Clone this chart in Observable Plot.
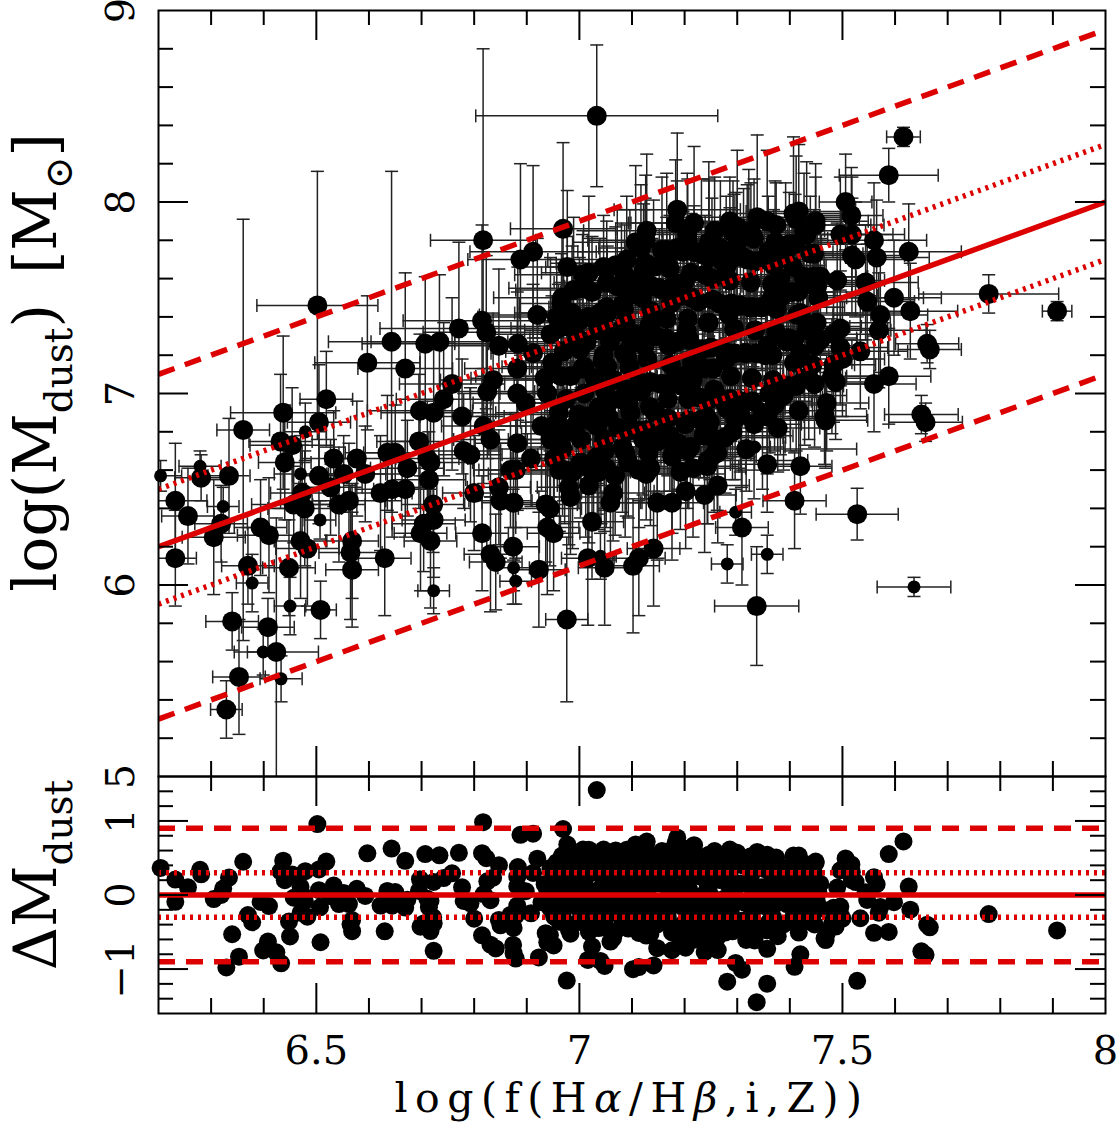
<!DOCTYPE html>
<html><head><meta charset="utf-8">
<script src="https://cdn.jsdelivr.net/npm/d3@7"></script>
<script src="https://cdn.jsdelivr.net/npm/@observablehq/plot@0.6"></script>
<style>body{margin:0;background:#fff} #chart svg{display:block}</style>
</head><body><div id="chart"></div>
<script>
// ---------- data: log f(Halpha/Hbeta,i,Z) (x) vs log Mdust (y) ----------
const mainF = [
6.232,6.256,6.232,6.281,6.305,6.319,6.334,6.361,6.34,6.329,
6.353,6.37,6.394,6.41,6.408,6.424,6.437,6.432,6.454,6.44,
6.448,6.457,6.473,6.478,6.47,6.483,6.502,6.505,6.505,6.508,
6.519,6.527,6.533,6.543,6.562,6.552,6.568,6.565,6.568,6.577,
6.597,6.593,6.622,6.63,6.635,6.643,6.644,6.65,6.669,6.669,
6.673,6.695,6.697,6.698,6.704,6.707,6.711,6.714,6.717,6.717,
6.722,6.723,6.723,6.734,6.742,6.758,6.771,6.777,6.78,6.793,
6.80,6.815,6.817,6.815,6.818,6.823,6.825,6.831,6.831,6.836,
6.841,6.847,6.847,6.85,6.869,6.874,6.875,6.879,6.882,6.882,
6.882,6.883,6.888,6.912,6.92,6.923,6.936,6.939,6.939,6.945,
6.945,6.944,6.951,6.969,6.977,6.977,6.976,6.983,6.98,6.986,
6.97,7.016,7.018,7.018,7.021,7.024,7.033,7.034,7.037,7.048,
7.053,7.059,7.064,7.072,7.102,7.107,7.113,7.113,7.122,7.128,
7.135,7.141,7.141,7.148,7.176,7.18,7.186,7.186,7.192,7.202,
7.205,7.218,7.23,7.238,7.243,7.246,7.256,7.262,7.263,7.268,
7.30,7.306,7.309,7.322,7.337,7.357,7.357,7.382,7.407,7.409,
7.417,7.42,7.42,7.42,7.427,7.439,7.446,7.449,7.452,7.458,
7.458,7.466,7.47,7.48,7.483,7.483,7.487,7.49,7.496,7.496,
7.496,7.50,7.506,7.517,7.518,7.518,7.525,7.528,7.534,7.544,
7.547,7.56,7.56,7.565,7.569,7.572,7.588,7.588,7.598,7.616,
7.626,7.629,7.65,7.658,7.661,7.666,7.778,7.908,7.468,7.382];
const mainM = [
6.44,6.36,6.14,6.56,6.25,6.32,6.57,6.81,5.81,5.35,
5.52,6.10,6.30,6.26,5.78,5.65,6.90,6.75,6.73,6.64,
6.09,6.42,6.48,6.40,6.23,6.19,7.46,6.85,6.57,5.87,
6.97,6.51,6.66,6.42,6.44,6.58,6.23,6.17,6.08,6.66,
7.16,6.58,6.48,6.14,6.69,7.27,6.50,6.69,7.13,6.50,
6.61,6.75,6.91,6.27,6.32,7.26,6.66,6.55,6.23,6.64,
6.42,6.34,6.90,7.27,6.97,7.05,7.34,6.88,6.70,6.68,
6.48,7.38,7.80,6.27,6.83,7.32,7.01,6.76,6.16,7.07,
6.12,7.25,6.51,6.44,6.60,6.20,6.43,6.60,7.13,7.00,
6.74,7.26,7.70,7.74,7.41,6.08,6.42,6.30,7.00,7.31,
6.76,6.40,6.27,7.86,7.66,7.42,5.82,6.46,6.51,7.42,
6.79,6.14,7.63,6.52,6.86,6.33,8.45,6.67,6.59,6.09,
7.42,6.43,6.48,7.56,6.10,7.79,6.14,6.60,7.64,7.85,
6.61,6.19,7.66,6.43,6.43,6.72,7.96,7.76,6.59,6.49,
6.70,7.89,6.86,6.47,6.62,7.76,6.68,6.69,6.52,7.76,
7.87,6.89,6.30,7.82,5.89,6.63,6.88,6.98,7.94,6.44,
7.95,6.62,7.42,7.21,7.85,7.73,7.35,7.90,7.56,7.61,
7.28,6.88,6.95,7.09,7.15,7.31,7.06,7.59,7.83,7.34,
7.24,7.18,8.00,7.93,7.83,7.72,7.70,6.37,7.22,7.58,
7.48,7.80,7.05,7.71,7.33,7.41,7.09,8.14,7.50,8.34,
7.74,7.43,6.89,6.85,7.26,7.23,7.52,7.43,6.86,7.60];
const mainErrF = [
0.06,0.05,0.04,0.05,0.06,0.05,0.04,0.05,0.05,0.03,
0.05,0.05,0.05,0.06,0.05,0.08,0.10,0.06,0.08,0.05,
0.05,0.08,0.06,0.07,0.05,0.06,0.115,0.06,0.05,0.03,
0.05,0.06,0.06,0.05,0.07,0.08,0.05,0.06,0.05,0.06,
0.10,0.07,0.06,0.05,0.08,0.12,0.07,0.06,0.09,0.06,
0.07,0.08,0.10,0.05,0.06,0.12,0.06,0.07,0.05,0.08,
0.06,0.06,0.10,0.13,0.09,0.10,0.15,0.08,0.07,0.06,
0.06,0.15,0.10,0.05,0.08,0.12,0.09,0.07,0.05,0.10,
0.05,0.11,0.06,0.06,0.07,0.05,0.06,0.07,0.10,0.09,
0.08,0.12,0.10,0.12,0.11,0.05,0.06,0.06,0.09,0.11,
0.08,0.06,0.05,0.10,0.09,0.10,0.04,0.06,0.06,0.10,
0.08,0.05,0.09,0.06,0.08,0.06,0.23,0.07,0.06,0.05,
0.10,0.06,0.06,0.10,0.05,0.12,0.05,0.07,0.10,0.12,
0.07,0.05,0.10,0.06,0.06,0.07,0.12,0.10,0.06,0.06,
0.07,0.12,0.08,0.06,0.06,0.10,0.07,0.07,0.06,0.10,
0.12,0.08,0.05,0.10,0.08,0.07,0.07,0.08,0.12,0.06,
0.10,0.06,0.20,0.09,0.10,0.10,0.09,0.10,0.09,0.09,
0.09,0.08,0.08,0.08,0.08,0.09,0.08,0.09,0.10,0.09,
0.09,0.08,0.05,0.06,0.10,0.10,0.10,0.078,0.09,0.10,
0.09,0.10,0.08,0.10,0.09,0.09,0.08,0.094,0.09,0.032,
0.10,0.09,0.07,0.07,0.06,0.06,0.133,0.028,0.08,0.09];
const mainErrM = [
0.30,0.25,0.25,0.12,0.30,0.20,0.30,1.10,0.15,0.15,
0.30,0.20,0.25,0.30,0.15,0.70,0.40,0.35,0.30,0.30,
0.25,0.20,0.25,0.30,0.30,0.30,0.70,0.30,0.25,0.15,
0.25,0.25,0.25,0.30,0.30,0.20,0.30,0.35,0.30,0.30,
0.35,0.25,0.30,0.30,0.30,0.89,0.25,0.25,0.50,0.25,
0.25,0.35,0.40,0.30,0.25,0.35,0.30,0.25,0.35,0.30,
0.25,0.30,0.35,0.35,0.40,0.45,0.45,0.30,0.30,0.35,
0.30,0.50,1.00,0.30,0.30,0.40,0.35,0.30,0.30,0.35,
0.25,0.40,0.30,0.30,0.30,0.30,0.30,0.30,0.40,0.35,
0.35,0.40,0.50,0.45,0.40,0.30,0.30,0.35,0.35,0.40,
0.30,0.30,0.30,0.45,0.40,0.40,0.43,0.30,0.30,0.35,
0.35,0.35,0.40,0.30,0.30,0.30,0.37,0.30,0.30,0.30,
0.35,0.30,0.25,0.40,0.35,0.40,0.30,0.30,0.35,0.40,
0.30,0.30,0.35,0.30,0.30,0.30,0.40,0.35,0.30,0.30,
0.30,0.40,0.30,0.30,0.30,0.35,0.30,0.30,0.30,0.35,
0.40,0.30,0.30,0.35,0.31,0.25,0.30,0.30,0.40,0.25,
0.35,0.25,0.30,0.30,0.30,0.30,0.30,0.30,0.30,0.30,
0.30,0.25,0.25,0.30,0.30,0.30,0.30,0.30,0.30,0.30,
0.30,0.30,0.25,0.25,0.30,0.30,0.30,0.135,0.30,0.30,
0.30,0.30,0.25,0.30,0.30,0.30,0.25,0.14,0.30,0.05,
0.25,0.25,0.10,0.10,0.10,0.10,0.10,0.05,0.25,0.30];

// galaxies drawn with a smaller symbol in the upper panel
const smallF = [6.204,6.279,6.323,6.378,6.399,6.433,6.45,6.47,6.479,6.507,6.723,6.875,6.879,7.04,7.281,7.297,7.333,7.357,7.636];
const smallM = [6.57,6.62,6.41,6.01,5.65,5.51,5.89,6.58,6.80,6.34,5.97,6.09,6.02,6.15,6.11,6.38,6.72,6.16,5.99];
const smallErrF = [0.04,0.04,0.03,0.03,0.03,0.04,0.03,0.05,0.04,0.03,0.03,0.03,0.03,0.03,0.03,0.03,0.03,0.03,0.07];
const smallErrM = [0.08,0.08,0.10,0.15,0.12,0.12,0.15,0.20,0.15,0.10,0.12,0.12,0.12,0.12,0.10,0.12,0.12,0.10,0.05];

// the dense central cloud
const cloudF = [
6.952,6.961,6.948,6.957,
6.987,6.994,6.983,6.996,6.989,
7.003,7.009,7.001,
7.027,7.034,7.029,7.036,7.024,
7.048,7.055,7.046,7.052,
7.068,7.074,7.066,7.073,7.069,
7.087,7.094,7.091,7.085,7.096,
7.108,7.114,7.106,7.112,7.117,
7.127,7.134,7.129,7.136,7.125,
7.148,7.155,7.146,7.152,7.157,7.144,
7.168,7.174,7.166,7.172,7.176,
7.188,7.194,7.186,7.192,7.197,7.183,
7.207,7.214,7.206,7.212,7.216,
7.228,7.234,7.226,7.232,7.236,
7.248,7.254,7.246,7.252,7.257,7.244,
7.268,7.274,7.266,7.272,7.277,
7.288,7.294,7.286,7.292,7.296,
7.308,7.314,7.306,7.312,7.317,
7.328,7.334,7.326,7.332,
7.348,7.354,7.346,7.352,7.357,
7.368,7.374,7.366,7.372,7.377,
7.388,7.394,7.386,7.392,
7.408,7.414,7.406,7.412,7.417,
7.428,7.434,7.426,7.432,
7.448,7.454,7.446,
6.928,6.934,6.912,6.908,6.898];
const cloudM = [
6.66,6.90,7.16,7.40,
6.59,6.84,7.09,7.29,7.54,
6.76,7.00,7.23,
6.58,6.83,7.08,7.33,7.53,
6.70,6.95,7.20,7.45,
6.57,6.82,7.07,7.32,7.67,
6.69,6.94,7.19,7.44,7.59,
6.81,7.06,7.31,7.56,7.76,
6.58,6.93,7.18,7.43,7.68,
6.75,7.05,7.30,7.55,7.75,6.90,
6.87,7.15,7.39,7.65,6.67,
6.74,7.04,7.27,7.51,7.74,7.89,
6.86,7.16,7.39,7.63,6.61,
6.98,7.23,7.48,7.73,6.78,
6.85,7.13,7.37,7.60,7.85,6.65,
6.97,7.22,7.47,7.69,6.77,
7.09,7.34,7.59,7.84,6.87,
6.96,7.21,7.46,7.71,6.71,
7.08,7.33,7.58,7.81,
6.90,7.20,7.45,7.70,7.90,
7.07,7.32,7.57,7.79,6.82,
6.99,7.27,7.51,7.74,
7.16,7.41,7.66,7.91,6.91,
7.08,7.35,7.61,7.83,
7.25,7.50,7.73,
6.83,7.08,7.21,6.66,6.95];
const cloudErrF = [
0.08,0.12,0.06,0.15,0.10,0.07,0.18,0.09,0.11,0.05,
0.13,0.08,0.20,0.07,0.10,0.14,0.06,0.09,0.16,0.08,
0.11,0.07,0.12,0.19,0.06,0.10,0.08,0.14,0.09,0.13,
0.07,0.17,0.10,0.06,0.12,0.08,0.15,0.09,0.11,0.22,
0.06,0.10,0.13,0.08,0.18,0.07,0.12,0.09,0.14,0.06,
0.10,0.16,0.08,0.11,0.07,0.13,0.20,0.09,0.06,0.12,
0.15,0.08,0.10,0.07,0.14,0.11,0.09,0.17,0.06,0.12,
0.08,0.13,0.10,0.19,0.07,0.09,0.15,0.06,0.11,0.14,
0.09,0.07,0.12,0.16,0.08,0.10,0.13,0.06,0.21,0.09,
0.11,0.08,0.14,0.07,0.12,0.10,0.17,0.09,0.06,0.13,
0.10,0.15,0.08,0.12,0.07,0.18,0.09,0.11,0.14,0.06,
0.12,0.09,0.16,0.08,0.10,0.13,0.07,0.20,0.11,0.09,
0.14,0.08,0.12,0.10];
const cloudErrM = [
0.30,0.22,0.35,0.28,0.40,0.25,0.32,0.20,0.38,0.27,
0.33,0.45,0.24,0.30,0.36,0.21,0.29,0.42,0.26,0.34,
0.23,0.31,0.39,0.27,0.35,0.20,0.44,0.28,0.32,0.25,
0.37,0.22,0.30,0.41,0.26,0.33,0.24,0.36,0.29,0.21,
0.34,0.27,0.43,0.23,0.31,0.38,0.25,0.30,0.22,0.35,
0.28,0.40,0.24,0.32,0.26,0.37,0.21,0.33,0.29,0.46,
0.25,0.31,0.36,0.23,0.34,0.27,0.39,0.22,0.30,0.35,
0.26,0.42,0.28,0.33,0.24,0.31,0.37,0.20,0.29,0.34,
0.23,0.38,0.27,0.32,0.45,0.25,0.30,0.36,0.22,0.28,
0.35,0.24,0.31,0.40,0.26,0.33,0.21,0.37,0.29,0.34,
0.27,0.32,0.23,0.39,0.30,0.25,0.36,0.28,0.41,0.22,
0.33,0.26,0.35,0.24,0.31,0.38,0.27,0.30,0.23,0.34,
0.29,0.36,0.25,0.32];

// more galaxies inside the cloud core
const core2F = [
6.972,6.968,6.975,6.970,6.977,6.966,
7.012,7.016,7.009,7.014,7.018,7.007,
7.051,7.047,7.055,7.049,7.053,7.058,7.045,7.052,
7.093,7.089,7.097,7.091,7.095,7.099,7.087,7.094,7.090,
7.131,7.127,7.135,7.129,7.134,7.138,7.126,
7.172,7.168,7.176,7.170,7.174,7.179,7.166,
7.211,7.207,7.215,7.209,7.214,7.218,7.205,
7.252,7.248,7.256,7.250,7.254,7.246,
7.291,7.287,7.295,7.289,7.294,7.298,
7.332,7.328,7.336,7.330,7.334,7.338,
7.371,7.367,7.375,7.369,7.374,
7.412,7.408,7.416,7.410,
7.447,7.443,7.451,7.445,7.449];
const core2M = [
6.60,6.71,6.97,7.22,7.35,7.47,
6.62,6.88,7.14,7.27,7.40,7.62,
6.61,6.76,6.88,7.01,7.14,7.27,7.38,7.58,
6.64,6.80,6.90,7.02,7.14,7.26,7.37,7.51,7.70,
6.69,6.81,7.06,7.31,7.36,7.56,7.80,
6.78,6.97,7.06,7.25,7.47,7.56,7.75,
6.72,6.97,7.07,7.28,7.50,7.74,7.83,
6.77,6.97,7.02,7.24,7.49,7.71,
6.80,6.97,7.21,7.47,7.71,7.77,
6.84,6.96,7.21,7.45,7.69,7.92,
6.94,7.20,7.44,7.67,7.88,
7.04,7.28,7.53,7.78,
7.05,7.15,7.37,7.61,7.88];
const core2ErrF = [
0.09,0.14,0.07,0.11,0.16,0.08,0.12,0.06,0.10,0.18,
0.07,0.13,0.09,0.15,0.06,0.11,0.20,0.08,0.12,0.10,
0.14,0.07,0.09,0.17,0.11,0.06,0.13,0.08,0.15,0.10,
0.12,0.19,0.07,0.09,0.14,0.11,0.06,0.16,0.08,0.12,
0.10,0.13,0.07,0.18,0.09,0.11,0.15,0.06,0.12,0.08,
0.14,0.10,0.17,0.07,0.09,0.13,0.11,0.06,0.19,0.08,
0.12,0.15,0.09,0.10,0.07,0.14,0.11,0.16,0.08,0.13,
0.06,0.10,0.18,0.09,0.12,0.07,0.15,0.11,0.08,0.14,
0.10,0.13];
const core2ErrM = [
0.28,0.35,0.22,0.40,0.30,0.26,0.37,0.24,0.33,0.29,
0.41,0.23,0.31,0.36,0.27,0.34,0.20,0.38,0.25,0.32,
0.29,0.44,0.26,0.30,0.35,0.22,0.39,0.28,0.33,0.24,
0.36,0.27,0.31,0.42,0.25,0.34,0.29,0.21,0.37,0.30,
0.26,0.33,0.40,0.23,0.35,0.28,0.31,0.38,0.24,0.32,
0.27,0.36,0.22,0.34,0.29,0.41,0.25,0.30,0.37,0.26,
0.33,0.28,0.39,0.23,0.35,0.31,0.27,0.43,0.24,0.32,
0.36,0.29,0.22,0.34,0.30,0.38,0.26,0.33,0.28,0.35,
0.31,0.25];

// still more galaxies filling the black core
const core3F = [
6.962,6.958,6.965,6.960,6.967,
7.002,6.998,7.005,7.000,7.006,
7.041,7.037,7.044,7.039,7.046,
7.082,7.078,7.085,7.080,7.086,
7.121,7.117,7.124,7.119,7.126,
7.161,7.157,7.164,7.159,7.166,
7.201,7.197,7.204,7.199,7.206,
7.241,7.237,7.244,7.239,7.246,
7.281,7.277,7.284,7.279,7.286,
7.321,7.317,7.324,7.319,7.326,
7.361,7.357,7.364,7.359,
7.401,7.397,7.404,7.399,
7.436,7.432,7.439];
const core3M = [
6.60,6.85,7.09,7.34,7.50,
6.64,6.89,7.13,7.38,7.55,
6.68,6.93,7.17,7.42,7.66,
6.72,6.97,7.21,7.46,7.62,
6.76,7.01,7.25,7.50,7.68,
6.80,7.05,7.29,7.54,7.70,
6.84,7.09,7.33,7.58,7.80,
6.88,7.13,7.37,7.62,7.79,
6.92,7.17,7.41,7.66,7.90,
6.96,7.21,7.45,7.70,7.85,
7.00,7.25,7.49,7.74,
7.04,7.29,7.53,7.78,
7.08,7.33,7.57];
const core3ErrF = [
0.11,0.07,0.15,0.09,0.13,0.06,0.18,0.10,0.08,0.14,
0.12,0.07,0.16,0.09,0.11,0.20,0.06,0.13,0.08,0.10,
0.15,0.09,0.12,0.07,0.17,0.10,0.14,0.06,0.11,0.08,
0.13,0.19,0.09,0.12,0.07,0.10,0.15,0.08,0.14,0.06,
0.11,0.16,0.09,0.13,0.07,0.12,0.10,0.18,0.08,0.14,
0.09,0.11,0.06,0.15,0.10,0.13,0.08,0.12,0.07,0.16,
0.10];
const core3ErrM = [
0.32,0.26,0.38,0.23,0.35,0.29,0.41,0.25,0.33,0.28,
0.36,0.22,0.30,0.39,0.27,0.34,0.24,0.31,0.43,0.26,
0.29,0.37,0.23,0.33,0.28,0.40,0.25,0.35,0.30,0.22,
0.34,0.27,0.38,0.24,0.32,0.29,0.36,0.21,0.31,0.42,
0.26,0.33,0.28,0.37,0.23,0.30,0.35,0.27,0.39,0.25,
0.31,0.24,0.36,0.29,0.34,0.22,0.38,0.27,0.32,0.26,
0.30];

// fit and scatter bands
const fitSlope = 1.0, fitIntercept = 0.0;
const fitRange = [6.2, 8.0];
const sigma1 = 0.3, sigma3 = 0.9;

// axes
const xDomain = [6.2, 8.0], yTopDomain = [5, 9], yBotDomain = [-1.6, 1.6];
const xMajorTicks = [6.5, 7, 7.5];
const xMinorTicks = [6.3,6.4,6.6,6.7,6.8,6.9,7.1,7.2,7.3,7.4,7.6,7.7,7.8,7.9];
const xTickLabels = ["6.5", "7", "7.5", "8"];
const xTickValues = [6.5, 7, 7.5, 8];
const yTopMajorTicks = [6, 7, 8];
const yTopMinorTicks = [5.2,5.4,5.6,5.8,6.2,6.4,6.6,6.8,7.2,7.4,7.6,7.8,8.2,8.4,8.6,8.8];
const yTopLabels = ["5", "6", "7", "8", "9"];
const yTopLabelValues = [5, 6, 7, 8, 9];
const yBotMajorTicks = [-1, 0, 1];
const yBotMinorTicks = [-1.4,-1.2,-0.8,-0.6,-0.4,-0.2,0.2,0.4,0.6,0.8,1.2,1.4];
const yBotLabels = ["\u22121", "0", "1"];
const yBotLabelValues = [-1, 0, 1];

// ---------- build rows ----------
function rows(F, M, EF, EM) {
  const n = Math.min(F.length, M.length, EF.length, EM.length);
  return d3.range(n).map(i => ({x: F[i], y: M[i], ex: EF[i], ey: EM[i],
    res: M[i] - (fitSlope * F[i] + fitIntercept)}));
}
const big = rows(mainF, mainM, mainErrF, mainErrM)
  .concat(rows(cloudF, cloudM, cloudErrF, cloudErrM))
  .concat(rows(core2F, core2M, core2ErrF, core2ErrM))
  .concat(rows(core3F, core3M, core3ErrF, core3ErrM));
const small = rows(smallF, smallM, smallErrF, smallErrM);
const all = big.concat(small);

const W = 1118, ML = 158, MR = 13;
const TOP_H = 776, TOP_MT = 10;
const BOT_H = 363, BOT_MB = 126;
const xPerPx = (xDomain[1] - xDomain[0]) / (W - ML - MR);
const yTopPerPx = (yTopDomain[1] - yTopDomain[0]) / (TOP_H - TOP_MT);
const yBotPerPx = (yBotDomain[1] - yBotDomain[0]) / (BOT_H - BOT_MB);

const RED = "#dc0000";
const FONT = "DejaVu Serif";
const ERR = "#222";
const ERRW = 1.5;
const DOTTED = "3,5", DASHED = "17,11";

const capPx = 6.5;
const caps = all.flatMap(d => [
  {x1: d.x - capPx * xPerPx, x2: d.x + capPx * xPerPx, y1: d.y + d.ey, y2: d.y + d.ey},
  {x1: d.x - capPx * xPerPx, x2: d.x + capPx * xPerPx, y1: d.y - d.ey, y2: d.y - d.ey},
  {x1: d.x + d.ex, x2: d.x + d.ex, y1: d.y - capPx * yTopPerPx, y2: d.y + capPx * yTopPerPx},
  {x1: d.x - d.ex, x2: d.x - d.ex, y1: d.y - capPx * yTopPerPx, y2: d.y + capPx * yTopPerPx}
]);

function fitLine(offset) {
  return fitRange.map(x => ({x, y: fitSlope * x + fitIntercept + offset}));
}

function tickMarks(yDom, yPerPx, yMajor, yMinor) {
  const L = 30, S = 15, sw = 2;
  const m = [];
  for (const [vals, len] of [[xMajorTicks, L], [xMinorTicks, S]]) {
    m.push(Plot.ruleX(vals, {x: d => d, y1: yDom[0], y2: yDom[0] + len * yPerPx, stroke: "black", strokeWidth: sw}));
    m.push(Plot.ruleX(vals, {x: d => d, y1: yDom[1], y2: yDom[1] - len * yPerPx, stroke: "black", strokeWidth: sw}));
  }
  for (const [vals, len] of [[yMajor, L], [yMinor, S]]) {
    m.push(Plot.ruleY(vals, {y: d => d, x1: xDomain[0], x2: xDomain[0] + len * xPerPx, stroke: "black", strokeWidth: sw}));
    m.push(Plot.ruleY(vals, {y: d => d, x1: xDomain[1], x2: xDomain[1] - len * xPerPx, stroke: "black", strokeWidth: sw}));
  }
  return m;
}

const redLine = (offset, dash) => Plot.line(fitLine(offset), {x: "x", y: "y", stroke: RED, strokeWidth: 5.5,
  strokeDasharray: dash, strokeLinecap: "butt", clip: true});
const redRule = (vals, dash) => Plot.ruleY(vals, {x1: fitRange[0], x2: fitRange[1], stroke: RED, strokeWidth: 5.5,
  strokeDasharray: dash, strokeLinecap: "butt"});

const YTITLE = "log(Mdust) [M\u2299]";
const topPlot = Plot.plot({
  width: W, height: TOP_H,
  marginLeft: ML, marginRight: MR, marginTop: TOP_MT, marginBottom: 0,
  x: {domain: xDomain, axis: null},
  y: {domain: yTopDomain, axis: null},
  style: {background: "transparent", overflow: "visible", fontFamily: FONT},
  marks: [
    Plot.ruleY(all, {y: "y", x1: d => d.x - d.ex, x2: d => d.x + d.ex, stroke: ERR, strokeWidth: ERRW, clip: true}),
    Plot.ruleX(all, {x: "x", y1: d => d.y - d.ey, y2: d => d.y + d.ey, stroke: ERR, strokeWidth: ERRW, clip: true}),
    Plot.link(caps, {x1: "x1", x2: "x2", y1: "y1", y2: "y2", stroke: ERR, strokeWidth: ERRW, clip: true}),
    Plot.dot(big, {x: "x", y: "y", r: 10, fill: "black"}),
    Plot.dot(small, {x: "x", y: "y", r: 6.5, fill: "black"}),
    redLine(0, null),
    redLine(sigma1, DOTTED),
    redLine(-sigma1, DOTTED),
    redLine(sigma3, DASHED),
    redLine(-sigma3, DASHED),
    ...tickMarks(yTopDomain, yTopPerPx, yTopMajorTicks, yTopMinorTicks),
    Plot.frame({stroke: "black", strokeWidth: 2}),
    Plot.text(yTopLabelValues, {x: xDomain[0], y: d => d, text: (d, i) => yTopLabels[i], rotate: -90, dx: -25,
      lineAnchor: "bottom", textAnchor: "middle", fontSize: 40, fontFamily: FONT, fill: "black"}),
    Plot.text([YTITLE], {frameAnchor: "left", text: d => d, rotate: -90, dx: -103, dy: -31,
      lineAnchor: "bottom", textAnchor: "middle", fontSize: 60, fontFamily: FONT, fill: "black"})
  ]
});

const DTITLE = "\u0394Mdust";
const XTITLE = "log(f(H\u03b1/H\u03b2,i,Z))";
const resid = all.filter(d => d.res >= yBotDomain[0] && d.res <= yBotDomain[1]);
const botPlot = Plot.plot({
  width: W, height: BOT_H,
  marginLeft: ML, marginRight: MR, marginTop: 0, marginBottom: BOT_MB,
  x: {domain: xDomain, axis: null},
  y: {domain: yBotDomain, axis: null},
  style: {background: "transparent", overflow: "visible", fontFamily: FONT},
  marks: [
    Plot.dot(resid, {x: "x", y: "res", r: 9, fill: "black"}),
    redRule([0], null),
    redRule([sigma1, -sigma1], DOTTED),
    redRule([sigma3, -sigma3], DASHED),
    ...tickMarks(yBotDomain, yBotPerPx, yBotMajorTicks, yBotMinorTicks),
    Plot.frame({stroke: "black", strokeWidth: 2}),
    Plot.text(yBotLabelValues, {x: xDomain[0], y: d => d, text: (d, i) => yBotLabels[i], rotate: -90, dx: -25,
      lineAnchor: "bottom", textAnchor: "middle", fontSize: 40, fontFamily: FONT, fill: "black"}),
    Plot.text(xTickValues, {x: d => d, y: yBotDomain[0], text: (d, i) => xTickLabels[i], dy: 50,
      lineAnchor: "bottom", textAnchor: "middle", fontSize: 40, fontFamily: FONT, fill: "black"}),
    Plot.text([DTITLE], {frameAnchor: "left", text: d => d, rotate: -90, dx: -103, dy: -20,
      lineAnchor: "bottom", textAnchor: "middle", fontSize: 60, fontFamily: FONT, fill: "black"}),
    Plot.text([XTITLE], {frameAnchor: "bottom", text: d => d, dy: 98,
      lineAnchor: "bottom", textAnchor: "middle", fontSize: 41, fontFamily: FONT, fill: "black"})
  ]
});

const chart = document.getElementById("chart");
chart.appendChild(topPlot);
chart.appendChild(botPlot);

// typeset subscripts / italics of the axis titles
function typeset(svg, plain, html, attrs) {
  for (const t of svg.querySelectorAll("text")) {
    if (t.textContent === plain) {
      t.innerHTML = html;
      for (const k in attrs) t.setAttribute(k, attrs[k]);
    }
  }
}
typeset(topPlot, YTITLE,
  'log(M<tspan font-size="39" dy="16">dust</tspan><tspan dy="-16">)\u2002[M</tspan><tspan font-size="39" dy="16">\u2299</tspan><tspan dy="-16">]</tspan>', {});
typeset(botPlot, DTITLE,
  '\u0394M<tspan font-size="39" dy="16">dust</tspan>', {});
typeset(botPlot, XTITLE,
  'log(f(H<tspan font-style="italic">\u03b1</tspan>/H<tspan font-style="italic">\u03b2</tspan>,i,Z))', {"letter-spacing": "7.5px"});
</script>
</body></html>
